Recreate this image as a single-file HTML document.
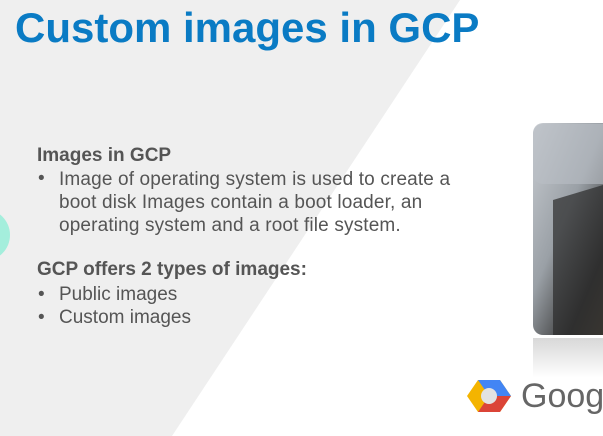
<!DOCTYPE html>
<html><head><style>
body{margin:0;width:603px;height:436px;overflow:hidden;background:#fff;position:relative;font-family:"Liberation Sans",Arial,sans-serif}
.t{position:absolute;white-space:nowrap;color:#555;font-size:19px}
</style></head><body>
<svg width="603" height="436" style="position:absolute;left:0;top:0">
<polygon points="0,0 460,0 172,436 0,436" fill="#efefef"/>
<circle cx="-16" cy="235" r="26" fill="#a4eedc"/>
<defs>
<linearGradient id="p" x1="0" y1="0" x2="1" y2="1">
<stop offset="0" stop-color="#c9cdd2"/><stop offset="0.4" stop-color="#9aa0a6"/><stop offset="0.7" stop-color="#3a3a3a"/><stop offset="1" stop-color="#6a5a40"/></linearGradient>
<linearGradient id="r" x1="0" y1="0" x2="0" y2="1"><stop offset="0" stop-color="#d8d8d8"/><stop offset="1" stop-color="#fff"/></linearGradient>
</defs>
<rect x="533" y="123" width="90" height="212" rx="10" fill="url(#p)"/>
<path d="M553 200 L603 185 L603 335 L553 335 Z" fill="#2b2b2b" opacity="0.7"/>
<rect x="533" y="124" width="90" height="60" rx="10" fill="#b9bec4" opacity="0.6"/>
<rect x="533" y="338" width="90" height="40" fill="url(#r)"/>
<polygon points="478,380 500,380 511,396 500,412 478,412 467,396" fill="#f4b400"/>
<polygon points="478,380 500,380 511,396 489,396" fill="#4285f4"/>
<polygon points="511,396 500,412 478,412 489,396" fill="#db4437"/>
<circle cx="489" cy="396" r="8" fill="#e2e2e2"/>
</svg>
<div class="t" style="left:15px;top:4px;font-size:42px;font-weight:bold;color:#0a7bc4">Custom images in GCP</div>
<div class="t" style="left:37px;top:145px;font-weight:bold">Images in GCP</div>
<div class="t" style="left:38px;top:168px">•</div>
<div class="t" style="left:59px;top:168px;line-height:23px;letter-spacing:0.15px">Image of operating system is used to create a<br>boot disk Images contain a boot loader, an<br>operating system and a root file system.</div>
<div class="t" style="left:37px;top:259px;font-weight:bold">GCP offers 2 types of images:</div>
<div class="t" style="left:38px;top:283px;line-height:23px">•<br>•</div>
<div class="t" style="left:59px;top:283px;line-height:23px">Public images<br>Custom images</div>
<div class="t" style="left:521px;top:377px;font-size:34px;color:#666">Googl</div>
</body></html>
